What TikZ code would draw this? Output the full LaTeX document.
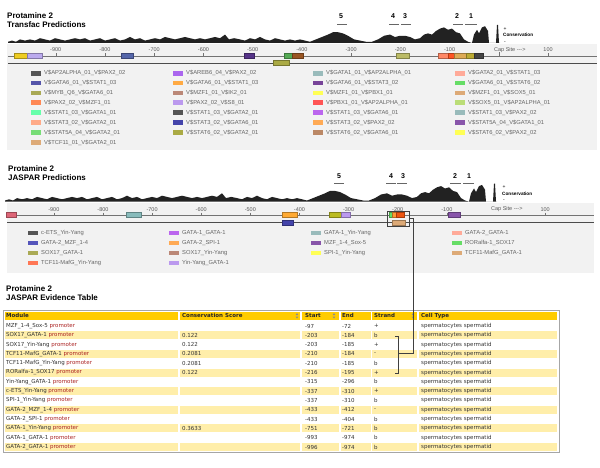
\documentclass[tikz,border=0pt]{standalone}
\usepackage{fontspec}
\setmainfont{Liberation Sans}
\newfontfamily\tabfont{DejaVu Sans}
\usetikzlibrary{positioning}
\definecolor{panelbg}{HTML}{F2F2F2}
\definecolor{headbg}{HTML}{FFCC00}
\definecolor{rowbg}{HTML}{FFEEAA}
\definecolor{promred}{HTML}{AA2222}
\definecolor{profile}{HTML}{222222}

\newcommand{\consprofile}{%
  \fill[profile] (8,0) \foreach \px/\ph in {8/1,12/2,16/1,20/3,25/2,30/3,35/2,40/4,45/3,50/2,55/4,60/3,65/2,70/3,75/4,80/3,85/4,90/2,95/3,100/4,105/2,110/3,115/4,120/2,125/3,130/5,135/3,140/4,145/2,150/3,155/4,160/3,165/5,170/4,175/3,180/4,185/5,190/4,195/3,200/4,205/3,210/4,215/5,220/4,225/7,229/3,234/4,240/3,245/2,250/4,255/3,260/5,265/3,270/2,275/4,280/3,285/2,290/3,295/2,300/3,305/2,310/1,316/3,322/5,328/7,333/9,338/9,343/8,348/6,354/3,360/2,366/1,372/1,378/3,384/6,390/7,395/5,400/6,405/6,410/5,415/3,420/4,424/7,428/8,432/7,436/10,440/12,444/13,448/11,452/12,456/9,460/8,464/3,468/1,472/0,474/7,477/11,479/8,482/13,485/14,488/10,489/0,496/0,497/15,498/15,499/0} { -- (\px,-\ph) } -- (500,0) -- cycle;}

\newcommand{\legcol}[5]{%
  \foreach \hex/\lab [count=\i] in {#5} {
    \definecolor{legc}{HTML}{\hex}
    \fill[legc] (#2,{#3+#4*(\i-1)-2.4}) rectangle ++(10,4.8);
    \node[legtext] (#1\i) at (#2+13,{#3+#4*(\i-1)}) {\lab};
  }}

\newcommand{\tfboxes}[2]{%
  \foreach \xa/\xb/\hex in {#2} {
    \definecolor{bx}{HTML}{\hex}
    \filldraw[fill=bx,draw=bx!70!black,line width=0.3pt] (\xa,{#1-2.6}) rectangle (\xb,{#1+2.6});
  }}

\begin{document}
\begin{tikzpicture}[x=1pt,y=-1pt,
    title/.style={font=\bfseries\fontsize{8}{9}\selectfont,anchor=base west,inner sep=0},
    ticklab/.style={font=\fontsize{5.5}{6}\selectfont,text=black!65,inner sep=0},
    legtext/.style={font=\fontsize{5.8}{6.5}\selectfont,text=black!60,anchor=west,inner sep=0},
    regnum/.style={font=\bfseries\fontsize{7}{7}\selectfont,anchor=base,inner sep=0},
    numline/.style={draw=black!60,line width=1.2pt},
    conslab/.style={font=\bfseries\fontsize{4.7}{5}\selectfont,anchor=west,inner sep=0},
    cell/.style={font=\tabfont\fontsize{5.5}{6}\selectfont,text=black!80,anchor=west,inner sep=0},
    headcell/.style={font=\tabfont\bfseries\fontsize{5.5}{6}\selectfont,text=black!85,anchor=west,inner sep=0},
    conn/.style={draw=black!75,line width=0.7pt}]
\useasboundingbox (0,0) rectangle (600,468);

% Transfac panel
\node[title] (ttitle1) at (7,18.5) {Protamine 2};
\node[title] (ttitle2) at (7,27.7) {Transfac Predictions};
\begin{scope}[shift={(0,43)},yscale=1.2]
  \consprofile
\end{scope}
\foreach \n/\nx/\ua/\ub in {5/341/337/347,4/393/389/399,3/405/401/411,2/457/453/463,1/471/465/477} {
  \node[regnum] (tr\n) at (\nx,18.3) {\n};
  \draw[numline] (\ua,24.3) -- (\ub,24.3);
}
\node[font=\fontsize{5}{5}\selectfont,inner sep=0] (tplus) at (505,29) {+};
\node[conslab] (tcons) at (503,35) {Conservation};
\node[font=\fontsize{5}{5}\selectfont,inner sep=0] (tminus) at (505,42.5) {-};
\fill[panelbg] (7,44) rectangle (597,150);
\foreach \p [count=\k] in {-900,-800,...,-100,100} {
  \node[ticklab] (ttk\k) at ({498.8+0.4923*\p},49.7) {\p};
  \draw[black!55,line width=0.4pt] ({498.8+0.4923*\p},53.5) -- ({498.8+0.4923*\p},56);
}
\node[ticklab,anchor=west] (tcap) at (494,49.7) {Cap Site -{}-{}->};
\draw[black!55,line width=0.4pt] (498.8,52) -- (498.8,56);
\draw[black!55,line width=0.6pt] (8,56) -- (597,56);
\draw[black!70,line width=0.6pt] (8,63) -- (597,63);
\tfboxes{56}{14/27/EECC22,27/42/BBAAEE,121/133/5566AA,244/254/553388,284/292/55AA55,292/303/995522,396/409/BBBB66,438/450/FF8866,448/454/FF5522,454/466/DDAA55,466/477/BBAA33,474/483/444444}
\tfboxes{63}{273/289/AAAA44}
\legcol{tla}{31}{73.2}{9.9}{555555/V\$AP2ALPHA\_01\_V\$PAX2\_02,5555AA/V\$GATA6\_01\_V\$STAT1\_03,AAAA55/V\$MYB\_Q6\_V\$GATA6\_01,FF8855/V\$PAX2\_02\_V\$MZF1\_01,66FFAA/V\$STAT1\_03\_V\$GATA1\_01,FFAA88/V\$STAT3\_02\_V\$GATA2\_01,77DD77/V\$STAT5A\_04\_V\$GATA2\_01,DDAA77/V\$TCF11\_01\_V\$GATA2\_01}
\legcol{tlb}{173}{73.2}{9.9}{AA66EE/V\$AREB6\_04\_V\$PAX2\_02,FFAA44/V\$GATA6\_01\_V\$STAT1\_03,BB8877/V\$MZF1\_01\_V\$IK2\_01,BB99EE/V\$PAX2\_02\_V\$S8\_01,555555/V\$STAT1\_03\_V\$GATA2\_01,4444AA/V\$STAT3\_02\_V\$GATA6\_01,AAAA44/V\$STAT6\_02\_V\$GATA2\_01}
\legcol{tlc}{313}{73.2}{9.9}{99BBBB/V\$GATA1\_01\_V\$AP2ALPHA\_01,774499/V\$GATA6\_01\_V\$STAT3\_02,FFFF55/V\$MZF1\_01\_V\$PBX1\_01,FF5555/V\$PBX1\_01\_V\$AP2ALPHA\_01,BB66EE/V\$STAT1\_03\_V\$GATA6\_01,FFAA55/V\$STAT3\_02\_V\$PAX2\_02,BB8866/V\$STAT6\_02\_V\$GATA6\_01}
\legcol{tld}{455}{73.2}{9.9}{FFAA99/V\$GATA2\_01\_V\$STAT1\_03,66DD66/V\$GATA6\_01\_V\$STAT6\_02,DDAA77/V\$MZF1\_01\_V\$SOX5\_01,BBDD77/V\$SOX5\_01\_V\$AP2ALPHA\_01,99BBBB/V\$STAT1\_03\_V\$PAX2\_02,8855AA/V\$STAT5A\_04\_V\$GATA1\_01,FFFF55/V\$STAT6\_02\_V\$PAX2\_02}

% JASPAR panel
\node[title] (jtitle1) at (8,171.5) {Protamine 2};
\node[title] (jtitle2) at (8,181) {JASPAR Predictions};
\begin{scope}[shift={(-3,201.7)},yscale=1.2]
  \consprofile
\end{scope}
\foreach \n/\nx/\ua/\ub in {5/339/334/344,4/391/386/396,3/403/397/407,2/455/450/461,1/469/463/474} {
  \node[regnum] (jr\n) at (\nx,178.3) {\n};
  \draw[numline] (\ua,183.3) -- (\ub,183.3);
}
\node[font=\fontsize{5}{5}\selectfont,inner sep=0] (jplus) at (504,187) {+};
\node[conslab] (jcons) at (502,193.5) {Conservation};
\node[font=\fontsize{5}{5}\selectfont,inner sep=0] (jminus) at (504,200.5) {-};
\fill[panelbg] (7,203) rectangle (594,273);
\foreach \p [count=\k] in {-900,-800,...,-100,100} {
  \node[ticklab] (jtk\k) at ({496+0.4913*\p},209.5) {\p};
  \draw[black!55,line width=0.4pt] ({496+0.4913*\p},212.5) -- ({496+0.4913*\p},215);
}
\node[ticklab,anchor=west] (jcap) at (491,209.5) {Cap Site -{}-{}->};
\draw[black!55,line width=0.6pt] (7,215) -- (594,215);
\draw[black!70,line width=0.6pt] (7,222.5) -- (594,222.5);
\tfboxes{215}{6/16/DD6677,126/141/88BBBB,282/297/FFAA33,329/341/BBBB22,341/350/BB99EE,389/393/66DD66,392/398/FF9933,396/404/EE5511,448/460/8855AA}
\tfboxes{222.5}{282/293/4444AA,392/405/DDAA77}
\node[draw=black!75,line width=0.7pt,minimum width=22pt,minimum height=15pt,inner sep=0] (hl) at (398,218.5) {};
\legcol{jla}{28}{233}{10}{555555/c-ETS\_Yin-Yang,5555BB/GATA-2\_MZF\_1-4,AAAA55/SOX17\_GATA-1,FF7755/TCF11-MafG\_Yin-Yang}
\legcol{jlb}{169}{233}{10}{BB66EE/GATA-1\_GATA-1,FFAA55/GATA-2\_SPI-1,BB8877/SOX17\_Yin-Yang,BB99EE/Yin-Yang\_GATA-1}
\legcol{jlc}{311}{233}{10}{99BBBB/GATA-1\_Yin-Yang,8855AA/MZF\_1-4\_Sox-5,FFFF55/SPI-1\_Yin-Yang}
\legcol{jld}{452}{233}{10}{FFAA99/GATA-2\_GATA-1,66DD66/RORalfa-1\_SOX17,DDAA77/TCF11-MafG\_GATA-1}

% evidence table
\node[title] (etitle1) at (6,291) {Protamine 2};
\node[title] (etitle2) at (6,300.5) {JASPAR Evidence Table};
\foreach \ca/\cb in {5/178,180/300,302/339,340.5/370.5,372/417,418.5/557}
  \fill[headbg] (\ca,311.5) rectangle (\cb,320);
\node[headcell] (hmod) at (6,315.8) {Module};
\node[headcell] (hcons) at (182,315.8) {Conservation Score};
\node[headcell] (hstart) at (305,315.8) {Start};
\node[headcell] (hend) at (342,315.8) {End};
\node[headcell] (hstrand) at (374,315.8) {Strand};
\node[headcell] (hcell) at (421,315.8) {Cell Type};
\foreach \sx in {297,334,413} {
  \fill[black!45] (\sx-1.3,315) -- (\sx+1.3,315) -- (\sx,313) -- cycle;
  \fill[black!45] (\sx-1.3,316.6) -- (\sx+1.3,316.6) -- (\sx,318.6) -- cycle;
}
\foreach \m/\cs/\st/\en/\sd [count=\r] in {MZF\_1-4\_Sox-5//-97/-72/+,SOX17\_GATA-1/0.122/-203/-184/b,SOX17\_Yin-Yang/0.122/-203/-185/+,TCF11-MafG\_GATA-1/0.2081/-210/-184/-,TCF11-MafG\_Yin-Yang/0.2081/-210/-185/b,RORalfa-1\_SOX17/0.122/-216/-195/+,Yin-Yang\_GATA-1//-315/-296/b,c-ETS\_Yin-Yang//-337/-310/+,SPI-1\_Yin-Yang//-337/-310/b,GATA-2\_MZF\_1-4//-433/-412/-,GATA-2\_SPI-1//-433/-404/b,GATA-1\_Yin-Yang/0.3633/-751/-721/b,GATA-1\_GATA-1//-993/-974/b,GATA-2\_GATA-1//-996/-974/b} {
  \pgfmathsetmacro{\ry}{326+9.31*(\r-1)}
  \ifodd\r\relax\else
    \foreach \ca/\cb in {5/178,180/300,302/339,340.5/370.5,372/417,418.5/557}
      \fill[rowbg] (\ca,\ry-4) rectangle (\cb,\ry+4);
  \fi
  \node[cell] (mod\r) at (6,\ry) {\m\ \textcolor{promred}{promoter}};
  \node[cell] (cs\r) at (182,\ry) {\cs};
  \node[cell] (st\r) at (305,\ry) {\st};
  \node[cell] (en\r) at (342,\ry) {\en};
  \node[cell] (sd\r) at (374,\ry) {\sd};
  \node[cell] (ct\r) at (421,\ry) {spermatocytes spermatid};
}
\draw[black!35,line width=0.8pt] (3,310) rectangle (559,452);

% link from highlighted window to the table rows
\coordinate (brktop) at (398,336);
\coordinate (brkbot) at (398,373);
\coordinate (brk) at (398,353);
\coordinate (turn) at (413,353);
\draw[conn] (hl.east) -| (turn) -- (brk);
\draw[conn] ([xshift=-3pt]brktop) -- (brktop) -- (brkbot) -- ([xshift=-3pt]brkbot);
\end{tikzpicture}
\end{document}
